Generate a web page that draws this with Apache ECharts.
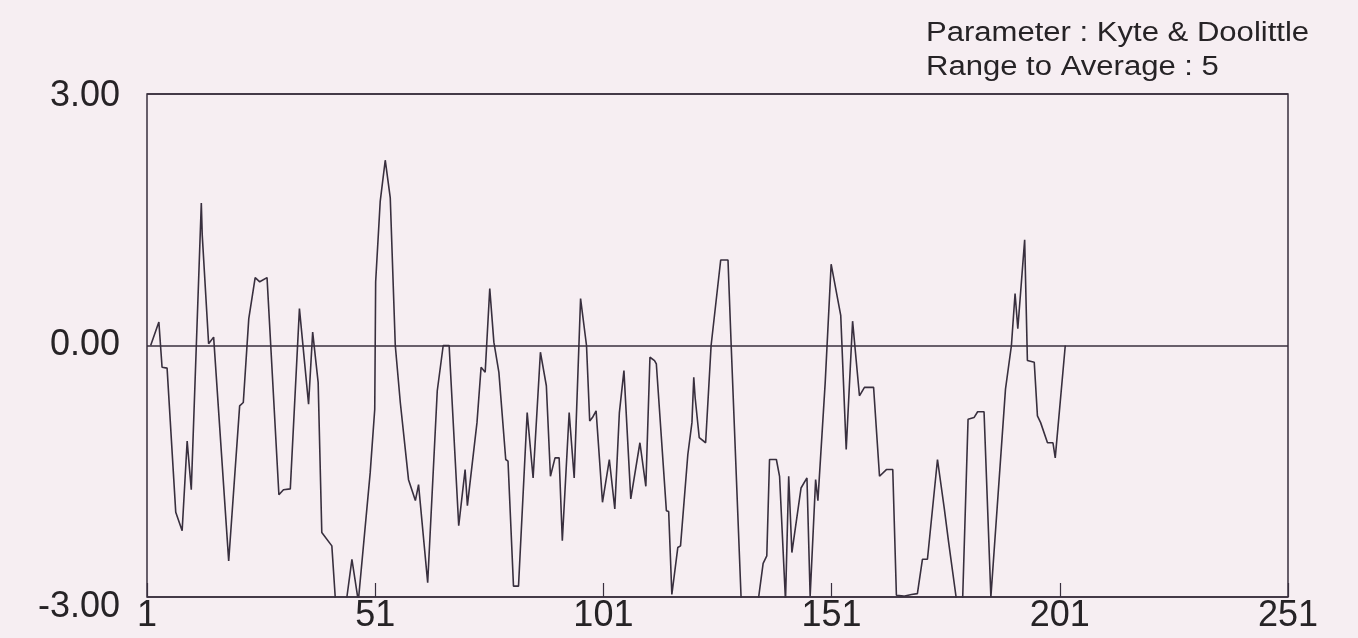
<!DOCTYPE html>
<html>
<head>
<meta charset="utf-8">
<script src="https://cdn.jsdelivr.net/npm/echarts@6/dist/echarts.min.js"></script>
<style>
html,body{margin:0;padding:0;background:#f6eef2;}
#c{width:1358px;height:638px;}
</style>
</head>
<body>
<div id="c"></div>
<script>
// Residue positions and hydropathy values (Kyte & Doolittle, window 5)
const residues = [1.8,3.6,4.3,5.4,7.3,8.7,9.8,10.7,12.9,13.1,14.5,15.6,18.9,21.3,22.1,23.3,24.7,25.7,27.3,29.9,30.9,32.4,34.4,36.4,37.3,38.5,39.3,41.5,42.3,43.5,44.8,45.9,47.3,49.9,50.9,51.1,52.1,53.2,54.3,55.4,56.5,58.3,59.8,60.5,62.5,64.6,65.0,65.9,67.2,69.3,70.7,71.2,73.3,74.2,75.1,76.1,77.0,78.1,79.6,80.1,81.3,82.4,84.3,85.6,87.2,88.5,89.4,90.4,91.3,92.0,93.5,94.6,96.0,97.3,98.0,98.6,99.4,100.8,102.3,103.5,104.5,105.5,107.0,109.0,110.3,111.2,112.2,112.6,114.8,115.3,116.0,117.3,117.9,119.5,120.4,120.8,121.1,122.0,123.4,124.6,126.7,128.3,129.0,131.2,132.8,134.9,136.0,136.8,137.4,138.9,139.6,140.9,141.6,142.3,144.3,145.6,146.3,147.5,148.0,149.6,149.9,150.9,153.0,154.2,155.6,157.1,158.2,160.2,161.5,163.0,164.4,165.2,166.8,168.5,169.8,170.9,172.0,174.2,175.7,176.6,177.0,178.4,179.0,179.7,180.9,182.2,183.0,184.4,185.9,189.1,190.4,191.2,191.8,193.3,193.9,195.4,196.1,196.8,198.3,199.5,200.0,202.2];
const hydropathy = [0.00,0.28,-0.26,-0.27,-1.99,-2.21,-1.14,-1.72,1.70,1.32,0.02,0.10,-2.57,-0.72,-0.68,0.32,0.81,0.76,0.81,-1.78,-1.72,-1.71,0.44,-0.70,0.16,-0.44,-2.23,-2.39,-3.05,-3.30,-3.00,-2.55,-3.05,-1.52,-0.76,0.76,1.72,2.21,1.76,0.00,-0.68,-1.60,-1.85,-1.66,-2.83,-0.54,-0.52,0.00,0.00,-2.15,-1.48,-1.91,-0.92,-0.26,-0.32,0.68,0.04,-0.32,-1.36,-1.38,-2.87,-2.87,-0.80,-1.58,-0.08,-0.48,-1.56,-1.34,-1.34,-2.33,-0.80,-1.58,0.56,0.00,-0.90,-0.86,-0.78,-1.87,-1.36,-1.95,-0.80,-0.30,-1.83,-1.16,-1.68,-0.14,-0.18,-0.22,-1.97,-1.98,-2.97,-2.41,-2.39,-1.30,-0.92,-0.38,-0.62,-1.10,-1.16,0.00,1.02,1.02,0.00,-3.05,-3.40,-3.05,-2.60,-2.51,-1.36,-1.36,-1.56,-3.05,-1.56,-2.47,-1.70,-1.58,-2.99,-1.60,-1.85,-0.44,-0.42,0.97,0.36,-1.24,0.29,-0.60,-0.50,-0.50,-1.56,-1.48,-1.48,-2.98,-2.99,-2.97,-2.96,-2.55,-2.55,-1.36,-1.95,-2.33,-2.35,-3.05,-3.20,-3.05,-0.88,-0.86,-0.79,-0.79,-3.00,-0.52,0.00,0.62,0.20,1.26,-0.18,-0.20,-0.84,-0.92,-1.16,-1.16,-1.34,0.00];
const xTickLabels = ['1','51','101','151','201','251'];
const yTickLabels = ['-3.00','0.00','3.00'];
const headerLines = ['Parameter : Kyte & Doolittle', 'Range to Average : 5'];

const ink = '#382f3e';
const txt = '#262326';
const font = 'Liberation Sans, Arial, Helvetica, sans-serif';

const chart = echarts.init(document.getElementById('c'), null, {renderer: 'canvas'});
const seriesData = residues.map((r, i) => [r - 1, hydropathy[i]]);

chart.setOption({
  backgroundColor: '#f6eef2',
  animation: false,
  grid: {left: 147, right: 70, top: 94, bottom: 41, show: true, borderColor: ink, borderWidth: 1.5, backgroundColor: 'transparent'},
  xAxis: {
    type: 'value', min: 0, max: 250, interval: 50,
    axisLine: {show: false, onZero: false},
    axisTick: {show: true, inside: true, length: 14, lineStyle: {color: ink, width: 1.2}},
    splitLine: {show: false},
    axisLabel: {
      color: txt, fontFamily: font, fontSize: 36, margin: 1,
      formatter: v => xTickLabels[Math.round(v / 50)]
    }
  },
  yAxis: {
    type: 'value', min: -3, max: 3, interval: 3,
    axisLine: {show: false},
    axisTick: {show: false},
    splitLine: {show: true, lineStyle: {color: ink, width: 1.5}},
    axisLabel: {
      color: txt, fontFamily: font, fontSize: 36, margin: 27,
      formatter: v => {
        const s = yTickLabels[Math.round((v + 3) / 3)];
        if (v === -3) return '{low|' + s + '}';
        if (v === 3) return '{high|' + s + '}';
        return s;
      },
      rich: {
        low: {color: txt, fontFamily: font, fontSize: 36, padding: [20, 0, 0, 0]},
        high: {color: txt, fontFamily: font, fontSize: 36, padding: [5, 0, 0, 0]}
      }
    }
  },
  series: [{
    type: 'line', data: seriesData, showSymbol: false, symbol: 'none',
    clip: true,
    lineStyle: {color: ink, width: 1.6},
    z: 5
  }],
  graphic: [
    {type: 'text', left: 926, top: 20, scaleX: 1.15, style: {text: headerLines[0], fill: txt, font: '27px ' + font}},
    {type: 'text', left: 926, top: 54, scaleX: 1.15, style: {text: headerLines[1], fill: txt, font: '27px ' + font}}
  ]
});
</script>
</body>
</html>
